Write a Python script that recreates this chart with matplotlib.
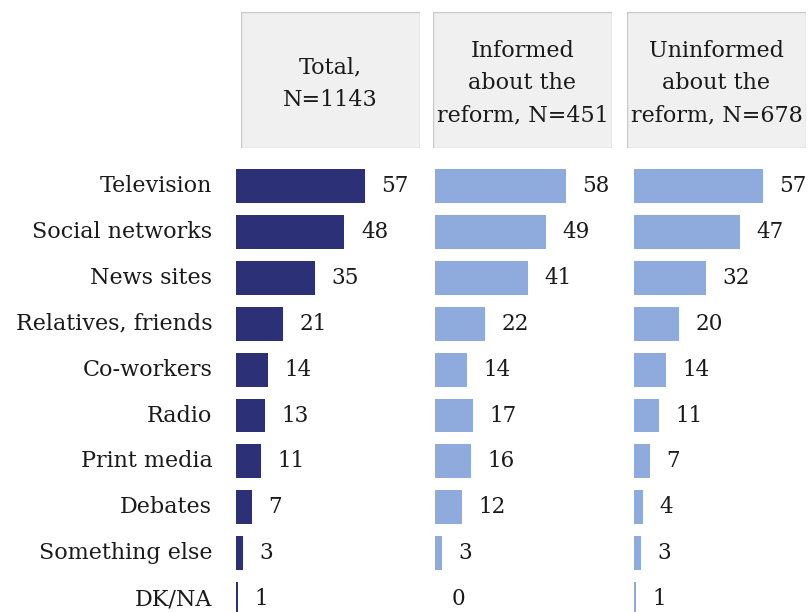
import matplotlib.pyplot as plt
from matplotlib.patches import Rectangle

categories = ['Television', 'Social networks', 'News sites', 'Relatives, friends',
              'Co-workers', 'Radio', 'Print media', 'Debates', 'Something else', 'DK/NA']
total = [57, 48, 35, 21, 14, 13, 11, 7, 3, 1]
informed = [58, 49, 41, 22, 14, 17, 16, 12, 3, 0]
uninformed = [57, 47, 32, 20, 14, 11, 7, 4, 3, 1]
headers = ['Total,\nN=1143', 'Informed\nabout the\nreform, N=451', 'Uninformed\nabout the\nreform, N=678']
series = [total, informed, uninformed]
colors = ['#2B3077', '#8FAADC', '#8FAADC']

plt.rcParams['font.family'] = ['DejaVu Serif']
W, H = 808, 612
fig = plt.figure(figsize=(W / 100, H / 100), dpi=100)

bar_x0 = [236, 435, 634]
box_x = [(241, 420), (433, 612), (627, 806)]
px_per_unit = 2.26
row0, step = 186, 45.9
ax_top, ax_bot = 163, 612
ymin = (ax_top - row0) / step
ymax = (ax_bot - row0) / step
txt = '#1a1a1a'

def px(x0, y0, w, h):
    return [x0 / W, 1 - (y0 + h) / H, w / W, h / H]

for i, vals in enumerate(series):
    ax = fig.add_axes(px(bar_x0[i], ax_top, 180, ax_bot - ax_top))
    ax.set_xlim(0, 180 / px_per_unit)
    ax.set_ylim(ymax, ymin)
    ys = list(range(len(categories)))
    ax.barh(ys, vals, height=0.74, color=colors[i])
    for y, v in zip(ys, vals):
        ax.text(v + 7.3, y, str(v), va='center', ha='left', fontsize=15.5, color=txt,
                clip_on=False)
    ax.axis('off')
    if i == 0:
        for y, c in zip(ys, categories):
            ax.text(-10.5, y, c, va='center', ha='right', fontsize=16, color=txt,
                    clip_on=False)

    bx0, bx1 = box_x[i]
    hax = fig.add_axes(px(bx0, 12, bx1 - bx0, 136))
    hax.set_xlim(0, 1)
    hax.set_ylim(0, 1)
    hax.add_patch(Rectangle((0, 0), 1, 1, facecolor='#F0F0F0', edgecolor='#C8C8C8',
                            linewidth=1.0))
    hax.text(0.5, 0.475, headers[i], ha='center', va='center', fontsize=16,
             color=txt, linespacing=1.6)
    hax.axis('off')

fig.savefig('out.png', dpi=100)
